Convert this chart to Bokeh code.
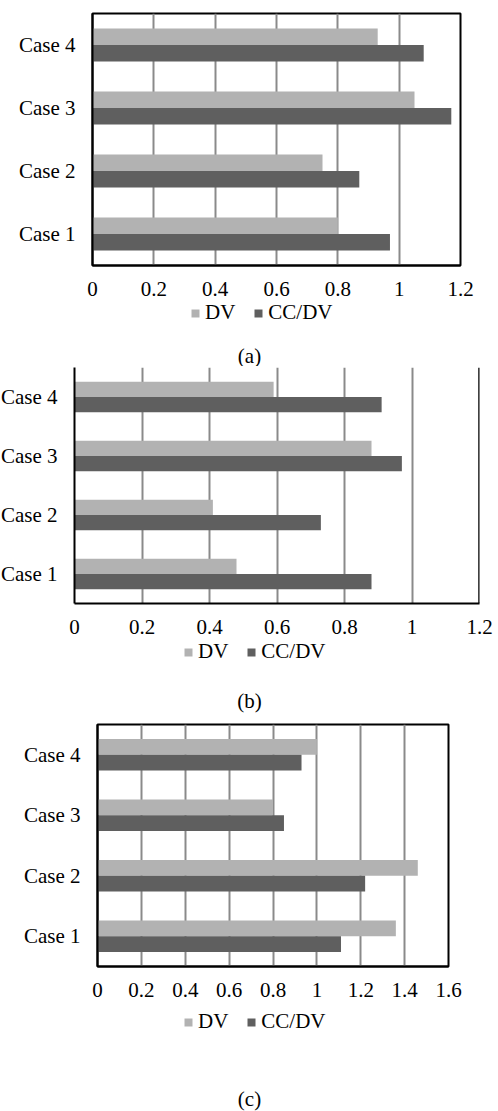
from bokeh.plotting import figure
from bokeh.models import (FactorRange, Range1d, FixedTicker, Legend, LegendItem,
                          Label, Span, ColumnDataSource)
from bokeh.transform import dodge
from bokeh.embed import file_html
from bokeh.resources import INLINE

cases = ["Case 1", "Case 2", "Case 3", "Case 4"]
series_names = ["DV", "CC/DV"]

dv_a = [0.80, 0.75, 1.05, 0.93]
ccdv_a = [0.97, 0.87, 1.17, 1.08]

dv_b = [0.48, 0.41, 0.88, 0.59]
ccdv_b = [0.88, 0.73, 0.97, 0.91]

dv_c = [1.36, 1.46, 0.80, 1.00]
ccdv_c = [1.11, 1.22, 0.85, 0.93]

ticks_ab = [0, 0.2, 0.4, 0.6, 0.8, 1.0, 1.2]
tick_labels_ab = ["0", "0.2", "0.4", "0.6", "0.8", "1", "1.2"]
ticks_c = [0, 0.2, 0.4, 0.6, 0.8, 1.0, 1.2, 1.4, 1.6]
tick_labels_c = ["0", "0.2", "0.4", "0.6", "0.8", "1", "1.2", "1.4", "1.6"]

captions = ["(a)", "(b)", "(c)"]

FONT = "Liberation Serif"
FS = "21px"
LIGHT = "#b2b2b2"
DARK = "#5f5f5f"
GRID = "#8a8a8a"


def make_chart(dv, cc, ticks, labels, width, height, mb_left, mb_right,
               mb_top, mb_bottom, full_box, margin=None):
    src = ColumnDataSource(dict(cat=cases, dv=dv, cc=cc))
    p = figure(width=width, height=height, y_range=FactorRange(factors=cases),
               x_range=Range1d(ticks[0], ticks[-1]), output_backend="svg",
               toolbar_location=None, min_border_left=mb_left, min_border_right=mb_right,
               min_border_top=mb_top, min_border_bottom=mb_bottom)
    if margin is not None:
        p.margin = margin
    p.hbar(y=dodge("cat", 0.13, range=p.y_range), right="dv", left=0, height=0.26,
           source=src, fill_color=LIGHT, line_color=None)
    p.hbar(y=dodge("cat", -0.13, range=p.y_range), right="cc", left=0, height=0.26,
           source=src, fill_color=DARK, line_color=None)

    p.xaxis.ticker = FixedTicker(ticks=ticks)
    p.xaxis.major_label_overrides = {t: l for t, l in zip(ticks, labels)}
    p.xaxis.major_tick_line_color = None
    p.xaxis.minor_tick_line_color = None
    p.xaxis.axis_line_color = "black"
    p.xaxis.axis_line_width = 2
    p.xaxis.major_label_standoff = 10
    p.xaxis.major_label_text_font = FONT
    p.xaxis.major_label_text_font_size = FS
    p.xaxis.major_label_text_color = "black"

    p.yaxis.major_tick_line_color = None
    p.yaxis.minor_tick_line_color = None
    p.yaxis.axis_line_color = "black"
    p.yaxis.axis_line_width = 2
    p.yaxis.major_label_standoff = 11
    p.yaxis.major_label_text_font = FONT
    p.yaxis.major_label_text_font_size = FS
    p.yaxis.major_label_text_color = "black"

    p.ygrid.grid_line_color = None
    p.xgrid.ticker = FixedTicker(ticks=ticks)
    p.xgrid.grid_line_color = GRID
    p.xgrid.grid_line_width = 2

    if full_box:
        p.outline_line_color = "black"
        p.outline_line_width = 2
        p.outline_line_alpha = 1
    else:
        p.outline_line_color = None
        p.add_layout(Span(location=ticks[-1], dimension="height", line_color="black",
                          line_width=2.5))
    return p


def make_legend_fig(dv, cc, height, legend_loc, caption, cap_xy):
    # Same series, drawn outside the visible x-range: only the legend shows.
    src = ColumnDataSource(dict(cat=cases, dv=dv, cc=cc))
    f = figure(width=498, height=height, x_range=Range1d(-2, -1),
               y_range=FactorRange(factors=cases),
               x_axis_location=None, y_axis_location=None, output_backend="svg",
               toolbar_location=None, min_border=0, outline_line_color=None)
    f.xgrid.grid_line_color = None
    f.ygrid.grid_line_color = None
    r1 = f.hbar(y="cat", right="dv", left=0, height=0.26, source=src,
                fill_color=LIGHT, line_color=None)
    r2 = f.hbar(y="cat", right="cc", left=0, height=0.26, source=src,
                fill_color=DARK, line_color=None)
    legend = Legend(items=[LegendItem(label=series_names[0], renderers=[r1]),
                           LegendItem(label=series_names[1], renderers=[r2])],
                    orientation="horizontal", location=legend_loc,
                    glyph_width=10, glyph_height=10, label_standoff=5, spacing=18,
                    padding=0, margin=0, border_line_color=None,
                    background_fill_alpha=0,
                    label_text_font=FONT, label_text_font_size=FS,
                    label_text_color="black")
    f.add_layout(legend)
    cap = Label(x=cap_xy[0], y=cap_xy[1], x_units="screen", y_units="screen",
                text=caption, text_align="center", text_baseline="middle",
                text_font=FONT, text_font_size=FS, text_color="black")
    f.add_layout(cap)
    return f


pa = make_chart(dv_a, ccdv_a, ticks_ab, tick_labels_ab, 498, 301, 92, 38, 13, 36, True)
la = make_legend_fig(dv_a, ccdv_a, 65, (190, 41), captions[0], (249, 11))
pb = make_chart(dv_b, ccdv_b, ticks_ab, tick_labels_ab, 518, 273, 94, 19, 1, 36, False,
                margin=(0, 0, 0, -20))
lb = make_legend_fig(dv_b, ccdv_b, 77, (183, 52), captions[1], (249, 16))
pc = make_chart(dv_c, ccdv_c, ticks_c, tick_labels_c, 498, 286, 97, 50, 8, 36, True)
lc = make_legend_fig(dv_c, ccdv_c, 109, (183, 77), captions[2], (249, 13))

open("out.html", "w").write(file_html([pa, la, pb, lb, pc, lc], INLINE))
